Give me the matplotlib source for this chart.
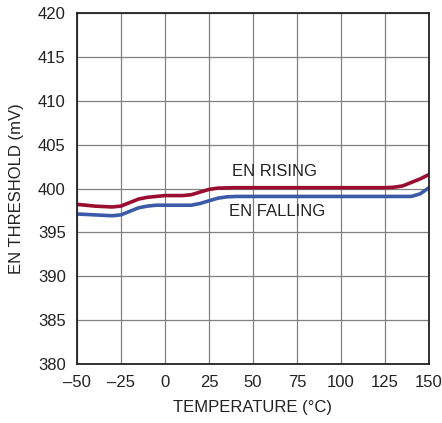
import matplotlib
matplotlib.use('Agg')
import matplotlib.pyplot as plt

plt.rcParams['font.family'] = ['Liberation Sans', 'DejaVu Sans']

# temperature (C) and threshold (mV)
temp_rise = [-50, -40, -30, -25, -20, -15, -10, -5, 0, 10, 15, 20, 25, 30, 40, 50,
             75, 100, 125, 130, 135, 140, 145, 150]
en_rising = [398.2, 398.0, 397.9, 398.0, 398.4, 398.8, 399.0, 399.1, 399.2, 399.2,
             399.3, 399.6, 399.9, 400.05, 400.1, 400.1, 400.1, 400.1, 400.1, 400.15,
             400.3, 400.7, 401.1, 401.6]

temp_fall = [-50, -40, -30, -25, -20, -15, -10, -5, 0, 15, 20, 25, 30, 35, 40, 50,
             75, 100, 125, 140, 145, 150]
en_falling = [397.1, 397.0, 396.9, 397.0, 397.4, 397.8, 398.0, 398.1, 398.1, 398.1,
              398.3, 398.6, 398.9, 399.05, 399.1, 399.1, 399.1, 399.1, 399.1, 399.1,
              399.4, 400.1]

xticks = [-50, -25, 0, 25, 50, 75, 100, 125, 150]
xticklabels = ['\u201350', '\u201325', '0', '25', '50', '75', '100', '125', '150']
yticks = list(range(380, 421, 5))

fig = plt.figure(figsize=(4.42, 4.23), dpi=100)
ax = fig.add_axes([0.174, 0.1395, 0.7966, 0.8295])

ax.plot(temp_rise, en_rising, color='#9a0c30', lw=2.6, solid_joinstyle='round')
ax.plot(temp_fall, en_falling, color='#3b5ba8', lw=2.6, solid_joinstyle='round')

ax.text(62.5, 402.0, 'EN RISING', ha='center', va='center', fontsize=12, color='#222222')
ax.text(64, 397.4, 'EN FALLING', ha='center', va='center', fontsize=12, color='#222222')

ax.set_xlim(-50, 150)
ax.set_ylim(380, 420)
ax.set_xticks(xticks)
ax.set_xticklabels(xticklabels)
ax.set_yticks(yticks)
ax.grid(True, color='#808080', lw=0.9)
ax.tick_params(length=0, labelsize=12, colors='#222222')
ax.tick_params(axis='x', pad=8)
ax.tick_params(axis='y', pad=8)
for s in ax.spines.values():
    s.set_linewidth(1.3)
    s.set_color('#222222')

ax.set_xlabel('TEMPERATURE (\u00b0C)', fontsize=12, color='#222222', labelpad=7)
ax.set_ylabel('EN THRESHOLD (mV)', fontsize=12, color='#222222', labelpad=10)

fig.savefig('out.png', dpi=100)
